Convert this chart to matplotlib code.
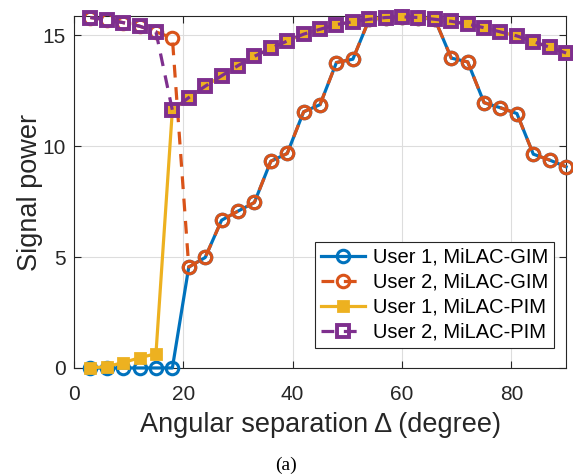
import matplotlib
matplotlib.use("Agg")
import matplotlib.pyplot as plt
import numpy as np

plt.rcParams['font.family'] = ['Liberation Sans', 'DejaVu Sans']

# angular separation (degree)
delta = np.arange(3, 91, 3)

# signal power
user1_gim = [0, 0, 0, 0, 0, 0, 4.55, 4.98, 6.66, 7.07, 7.46, 9.32, 9.67, 11.55, 11.87,
             13.77, 13.92, 15.72, 15.80, 15.83, 15.80, 15.72, 13.97, 13.80, 11.96, 11.73,
             11.47, 9.64, 9.37, 9.07]
user2_gim = [15.80, 15.70, 15.57, 15.41, 15.15, 14.88, 4.55, 4.98, 6.66, 7.07, 7.46, 9.32,
             9.67, 11.55, 11.87, 13.77, 13.92, 15.72, 15.80, 15.83, 15.80, 15.72, 13.97,
             13.80, 11.96, 11.73, 11.47, 9.64, 9.37, 9.07]
user1_pim = [0.0, 0.06, 0.24, 0.46, 0.64, 11.62, 12.19, 12.70, 13.17, 13.63, 14.05, 14.41,
             14.74, 15.05, 15.27, 15.48, 15.61, 15.72, 15.80, 15.83, 15.80, 15.72, 15.63,
             15.50, 15.34, 15.15, 14.97, 14.71, 14.46, 14.20]
user2_pim = [15.80, 15.70, 15.57, 15.41, 15.15, 11.62, 12.19, 12.70, 13.17, 13.63, 14.05,
             14.41, 14.74, 15.05, 15.27, 15.48, 15.61, 15.72, 15.80, 15.83, 15.80, 15.72,
             15.63, 15.50, 15.34, 15.15, 14.97, 14.71, 14.46, 14.20]

labels = ['User 1, MiLAC-GIM', 'User 2, MiLAC-GIM', 'User 1, MiLAC-PIM', 'User 2, MiLAC-PIM']

fig = plt.figure(figsize=(5.73, 4.76), dpi=100)
ax = fig.add_axes([0.129, 0.227, 0.859, 0.739])

ax.plot(delta, user1_gim, '-o', color='#0072BD', lw=2.3, ms=9, mew=2.2,
        mfc='none', label=labels[0], clip_on=False, zorder=3)
ax.plot(delta, user2_gim, '--o', color='#D95319', lw=2.3, ms=9, mew=2.2,
        mfc='none', label=labels[1], clip_on=False, zorder=4, dashes=(4, 3))
ax.plot(delta, user1_pim, '-s', color='#EDB120', lw=2.3, ms=7.5, mew=2,
        label=labels[2], clip_on=False, zorder=5)
ax.plot(delta, user2_pim, '--s', color='#7E2F8E', lw=2.3, ms=8, mew=2.8,
        mfc='none', label=labels[3], clip_on=False, zorder=6, dashes=(4, 3))

ax.set_xlim(0, 90)
ax.set_ylim(0, 15.86)
ax.set_xticks([0, 20, 40, 60, 80])
ax.set_yticks([0, 5, 10, 15])
ax.grid(True, color='#dddddd', lw=0.8)
ax.set_axisbelow(True)
ax.tick_params(direction='in', top=True, right=True, labelsize=15, length=5,
               color='#262626', labelcolor='#262626')
ax.xaxis.set_tick_params(pad=12)
ax.yaxis.set_tick_params(pad=6)
for s in ax.spines.values():
    s.set_color('#262626')
    s.set_linewidth(0.8)

ax.set_xlabel('Angular separation \u0394 (degree)', fontsize=19.5, color='#262626')
ax.set_ylabel('Signal power', fontsize=19.5, color='#262626')
ax.xaxis.set_label_coords(0.5, -0.125)
ax.yaxis.set_label_coords(-0.062, 0.5)

leg = ax.legend(loc='lower right', bbox_to_anchor=(0.976, 0.057), borderaxespad=0,
                fontsize=14.5, fancybox=False, edgecolor='#262626', framealpha=1,
                handlelength=2.2, labelspacing=0.3, borderpad=0.3, handletextpad=0.4)
leg.get_frame().set_linewidth(0.8)

fig.text(0.5, 0.023, '(a)', ha='center', va='center', fontsize=14, family='Liberation Serif')

fig.savefig('out.png', dpi=100)
